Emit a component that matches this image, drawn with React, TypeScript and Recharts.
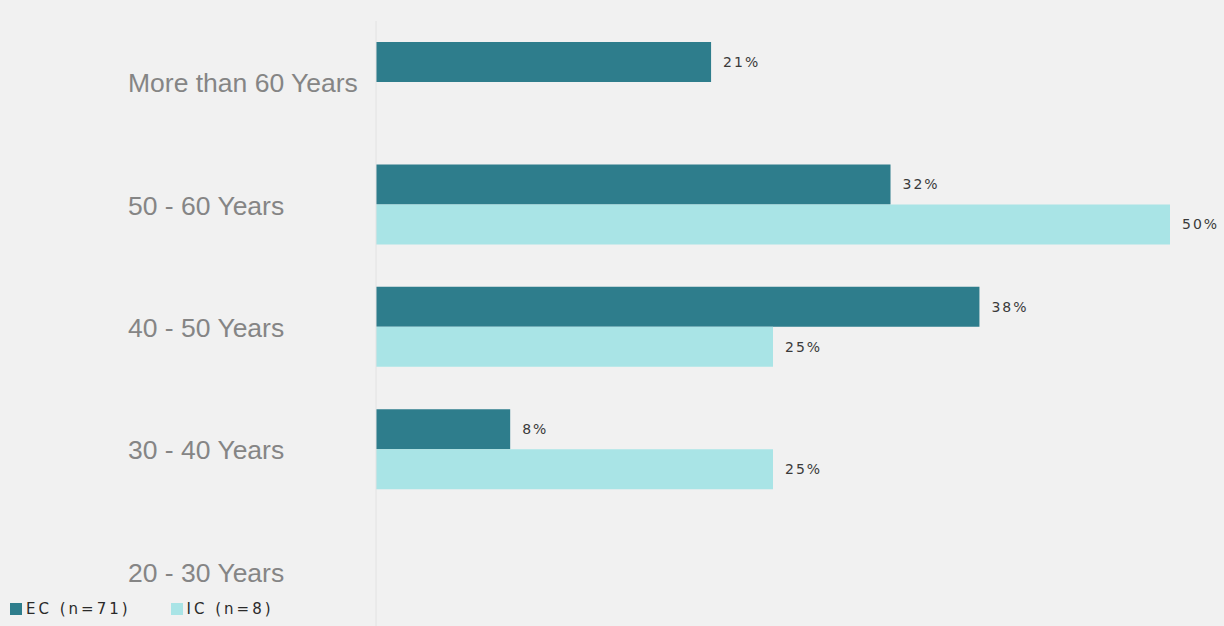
import React from 'react';
import { BarChart, Bar, XAxis, YAxis, LabelList } from 'recharts';

const categories = ['More than 60 Years', '50 - 60 Years', '40 - 50 Years', '30 - 40 Years', '20 - 30 Years'];
// share of respondents in % (labels show them rounded)
const ecValues: (number | null)[] = [21.1, 32.4, 38.0, 8.45, null];
const icValues: (number | null)[] = [null, 50, 25, 25, null];

const EC_COLOR = '#2e7d8c';
const IC_COLOR = '#a9e4e6';

const data = categories.map((name, i) => ({ name, ec: ecValues[i], ic: icValues[i] }));

const CategoryTick = (props: any) => {
  const { y, payload } = props;
  return (
    <text x={128} y={y} dy={10} textAnchor="start" fill="#858585"
      style={{ fontFamily: 'Liberation Sans, Arial, sans-serif', fontSize: 26.5 }}>
      {payload.value}
    </text>
  );
};

const ValueLabel = (props: any) => {
  const { x, y, width, height, value } = props;
  if (value === null || value === undefined) return null;
  return (
    <text x={x + width + 12} y={y + height / 2} dy={5} fill="#3a3a3a"
      style={{ fontFamily: 'DejaVu Sans, sans-serif', fontSize: 14, letterSpacing: 2 }}>
      {Math.round(value)}%
    </text>
  );
};

const LegendItem = ({ color, text }: { color: string; text: string }) => (
  <div style={{ display: 'flex', alignItems: 'center', marginRight: 40 }}>
    <div style={{ width: 12, height: 12, background: color, marginRight: 4 }} />
    <span style={{ fontFamily: 'DejaVu Sans, sans-serif', fontSize: 15, color: '#2a2a2a', letterSpacing: 3 }}>{text}</span>
  </div>
);

export default function App() {
  return (
    <div style={{ position: 'absolute', left: 0, top: 0, width: 1224, height: 626, background: '#f1f1f1', overflow: 'hidden' }}>
      <BarChart
        width={1224}
        height={640}
        data={data}
        layout="vertical"
        margin={{ top: 21, right: 54, bottom: 7, left: 0 }}
        barSize={40}
        barGap={0}
      >
        <XAxis type="number" domain={[0, 50]} hide />
        <YAxis
          type="category"
          dataKey="name"
          width={376}
          axisLine={{ stroke: '#e2e2e2' }}
          tickLine={false}
          tick={<CategoryTick />}
        />
        <Bar dataKey="ec" fill={EC_COLOR} isAnimationActive={false}>
          <LabelList dataKey="ec" content={<ValueLabel />} />
        </Bar>
        <Bar dataKey="ic" fill={IC_COLOR} isAnimationActive={false}>
          <LabelList dataKey="ic" content={<ValueLabel />} />
        </Bar>
      </BarChart>
      <div style={{ position: 'absolute', left: 10, top: 600, display: 'flex' }}>
        <LegendItem color={EC_COLOR} text="EC (n=71)" />
        <LegendItem color={IC_COLOR} text="IC (n=8)" />
      </div>
    </div>
  );
}
